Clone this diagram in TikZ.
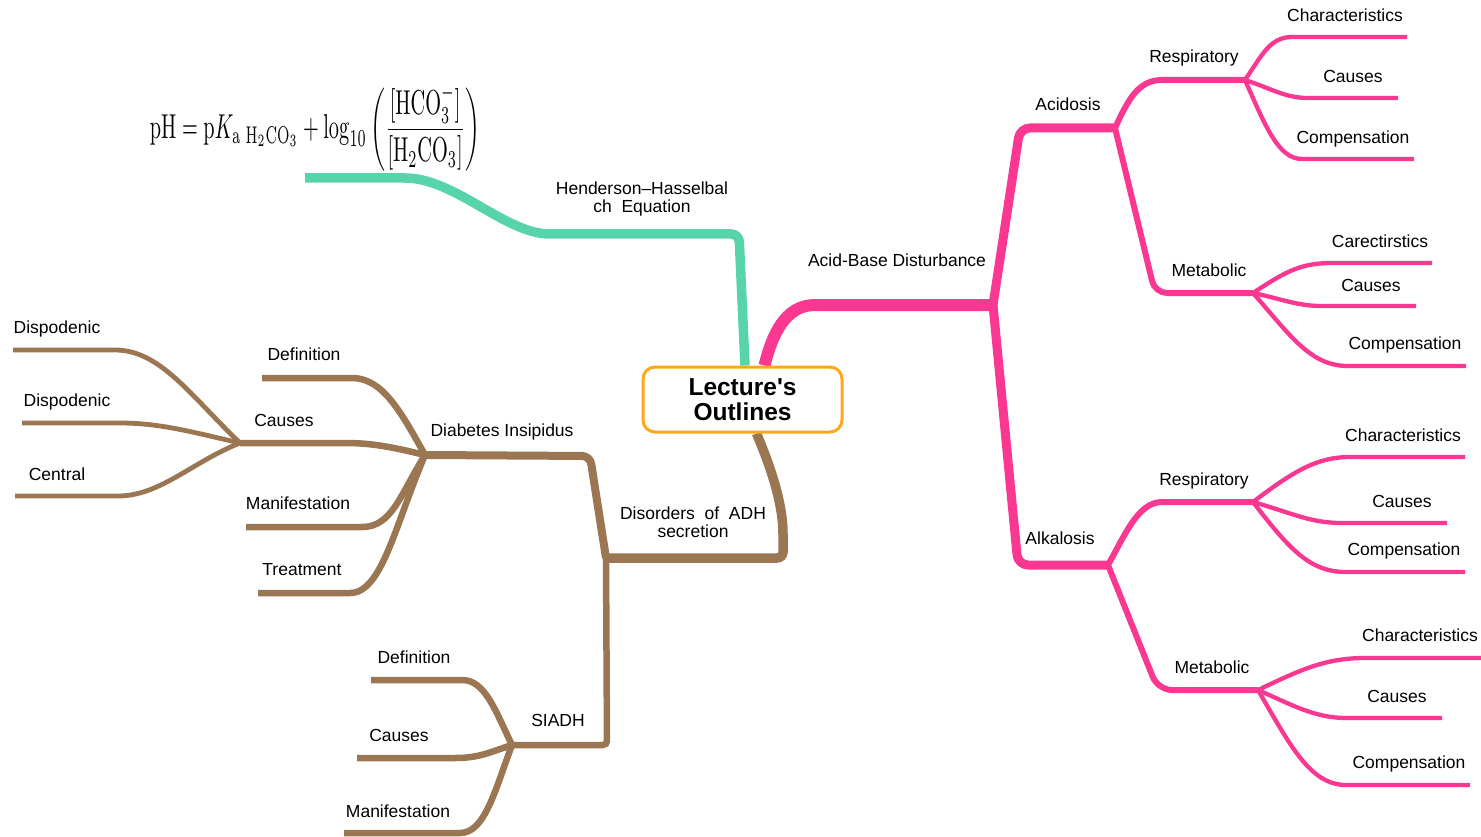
\documentclass[tikz,border=0pt]{standalone}
\usepackage[no-math]{fontspec}
\setmainfont{Liberation Sans}
\usepackage{graphicx}
\usetikzlibrary{backgrounds,calc}
\definecolor{mmteal}{RGB}{88,212,170}
\definecolor{mmpink}{RGB}{250,55,145}
\definecolor{mmbrown}{RGB}{155,118,82}
\definecolor{mmorange}{RGB}{255,168,30}
\begin{document}
\begin{tikzpicture}[x=1pt,y=-1pt,line join=round,line cap=butt,
  lbl/.style={font=\fontsize{17.5}{19}\selectfont,inner sep=0pt,text height=12.5pt,text depth=0pt},
  lbl2/.style={font=\fontsize{17.5}{18.5}\selectfont,inner sep=0pt,align=center},
  centerbox/.style={draw=mmorange,line width=3pt,rounded corners=12pt,fill=white,
    minimum width=199pt,minimum height=65pt,align=center,inner sep=0pt,
    font=\fontsize{24.5}{24.5}\selectfont\bfseries},
  tl/.style={draw=mmteal,line width=9.5pt},
  pk1/.style={draw=mmpink,line width=12pt},
  pk2/.style={draw=mmpink,line width=9pt},
  pk3/.style={draw=mmpink,line width=6pt},
  pk4/.style={draw=mmpink,line width=4.3pt},
  bw1/.style={draw=mmbrown,line width=9.5pt},
  bw2/.style={draw=mmbrown,line width=8pt},
  bw3/.style={draw=mmbrown,line width=6.5pt},
  bw4/.style={draw=mmbrown,line width=4.8pt}]
\useasboundingbox (0,0) rectangle (1481,837);

\node[centerbox] (center) at (742.5,399.5) {Lecture\textquotesingle s\\Outlines};

% ---------- formula ----------
\node[inner sep=0pt] (hhf) at (315,128) {\resizebox*{330pt}{86pt}{$\displaystyle \mathrm{pH}=\mathrm{p}K_{\mathrm{a}\ \mathrm{H_2CO_3}}+\log_{10}\left(\frac{[\mathrm{HCO_3^-}]}{[\mathrm{H_2CO_3}]}\right)$}};

% ---------- labels ----------
\node[lbl2] (hhl) at (642,199) {Henderson–Hasselbal\\ch\ \ Equation};
\node[lbl] (abd) at (897,260) {Acid-Base Disturbance};
\node[lbl] (acid) at (1068,104) {Acidosis};
\node[lbl] (alk) at (1060,538) {Alkalosis};
\node[lbl] (ar) at (1194,56) {Respiratory};
\node[lbl] (am) at (1209,270) {Metabolic};
\node[lbl] (lr) at (1204,479) {Respiratory};
\node[lbl] (lm) at (1212,667) {Metabolic};
\node[lbl] (ar1) at (1345,15) {Characteristics};
\node[lbl] (ar2) at (1353,76) {Causes};
\node[lbl] (ar3) at (1353,137) {Compensation};
\node[lbl] (am1) at (1380,241) {Carectirstics};
\node[lbl] (am2) at (1371,285) {Causes};
\node[lbl] (am3) at (1405,343) {Compensation};
\node[lbl] (lr1) at (1403,435) {Characteristics};
\node[lbl] (lr2) at (1402,501) {Causes};
\node[lbl] (lr3) at (1404,549) {Compensation};
\node[lbl] (lm1) at (1420,635) {Characteristics};
\node[lbl] (lm2) at (1397,696) {Causes};
\node[lbl] (lm3) at (1409,762) {Compensation};
\node[lbl2] (dis) at (693,522) {Disorders\ \ of\ \ ADH\\secretion};
\node[lbl] (di) at (502,430) {Diabetes Insipidus};
\node[lbl] (si) at (558,720) {SIADH};
\node[lbl] (di1) at (304,354) {Definition};
\node[lbl] (di2) at (284,420) {Causes};
\node[lbl] (di3) at (298,503) {Manifestation};
\node[lbl] (di4) at (302,569) {Treatment};
\node[lbl] (dc1) at (57,327) {Dispodenic};
\node[lbl] (dc2) at (67,400) {Dispodenic};
\node[lbl] (dc3) at (57,474) {Central};
\node[lbl] (si1) at (414,657) {Definition};
\node[lbl] (si2) at (399,735) {Causes};
\node[lbl] (si3) at (398,811) {Manifestation};

% ---------- junctions and free ends ----------
\coordinate (hhj) at (550,234);
\coordinate (hhe) at (305,178);
\coordinate (abj) at (993,305);
\coordinate (acj) at (1115,128);
\coordinate (alj) at (1108,565);
\coordinate (arj) at (1245,80);
\coordinate (amj) at (1253,293);
\coordinate (lrj) at (1253,502);
\coordinate (lmj) at (1258,690);
\coordinate (ar1e) at (1407,37);
\coordinate (ar2e) at (1398,98);
\coordinate (ar3e) at (1414,159);
\coordinate (am1e) at (1432,263);
\coordinate (am2e) at (1416,306);
\coordinate (am3e) at (1466,366);
\coordinate (lr1e) at (1465,457);
\coordinate (lr2e) at (1447,523);
\coordinate (lr3e) at (1465,572);
\coordinate (lm1e) at (1481,658);
\coordinate (lm2e) at (1442,718);
\coordinate (lm3e) at (1470,785);
\coordinate (dj) at (606,558);
\coordinate (dij) at (425,455);
\coordinate (sj) at (512,745);
\coordinate (dcj) at (240,443);
\coordinate (di1e) at (262,378);
\coordinate (di3e) at (246,527);
\coordinate (di4e) at (258,593);
\coordinate (dc1e) at (13,350);
\coordinate (dc2e) at (22,423);
\coordinate (dc3e) at (15,496);
\coordinate (si1e) at (371,680);
\coordinate (si2e) at (357,758);
\coordinate (si3e) at (344,833);

\begin{scope}[on background layer]
% teal
\draw[tl,rounded corners=8pt] ([xshift=2.5pt]center.north) -- (739,234) -- (hhj);
\draw[tl] (hhj) .. controls (505,234) and (455,178) .. (405,178) -- (hhe);
% pink
\draw[pk1] ([xshift=22pt]center.north) .. controls (772,335) and (785,305) .. (815,305) -- (abj);
\draw[pk2,rounded corners=10pt] (abj) -- (1020,128) -- (acj);
\draw[pk2,rounded corners=10pt] (abj) -- (1018,565) -- (alj);
\draw[pk3] (acj) .. controls (1128,100) and (1138,80) .. (1162,80) -- (arj);
\draw[pk3,rounded corners=12pt] (acj) -- (1155,293) -- (amj);
\draw[pk3] (alj) .. controls (1125,535) and (1138,502) .. (1162,502) -- (lrj);
\draw[pk3,rounded corners=14pt] (alj) -- (1158,690) -- (lmj);
\draw[pk4] (arj) .. controls (1262,55) and (1270,37) .. (1292,37) -- (ar1e);
\draw[pk4] (arj) .. controls (1270,88) and (1285,98) .. (1308,98) -- (ar2e);
\draw[pk4] (arj) .. controls (1265,125) and (1278,159) .. (1302,159) -- (ar3e);
\draw[pk4] (amj) .. controls (1285,272) and (1300,263) .. (1332,263) -- (am1e);
\draw[pk4] (amj) .. controls (1282,299) and (1297,306) .. (1322,306) -- (am2e);
\draw[pk4] (amj) .. controls (1290,335) and (1310,366) .. (1348,366) -- (am3e);
\draw[pk4] (lrj) .. controls (1295,470) and (1318,457) .. (1350,457) -- (lr1e);
\draw[pk4] (lrj) .. controls (1292,513) and (1310,523) .. (1342,523) -- (lr2e);
\draw[pk4] (lrj) .. controls (1290,550) and (1310,572) .. (1346,572) -- (lr3e);
\draw[pk4] (lmj) .. controls (1300,670) and (1325,658) .. (1365,658) -- (lm1e);
\draw[pk4] (lmj) .. controls (1292,705) and (1315,718) .. (1346,718) -- (lm2e);
\draw[pk4] (lmj) .. controls (1290,745) and (1310,785) .. (1346,785) -- (lm3e);
% brown
\draw[bw1,rounded corners=6pt] ([xshift=14pt]center.south) .. controls (772,470) and (783,505) .. (783,540) -- (783,558) -- (dj);
\draw[bw2,rounded corners=8pt] (dj) -- (590,456) -- (dij);
\draw[bw3,rounded corners=4pt] (dj) -- (607,745) -- (sj);
\draw[bw3] (dij) .. controls (400,410) and (382,378) .. (352,378) -- (di1e);
\draw[bw3] (dij) .. controls (392,447) and (372,443) .. (345,443) -- (dcj);
\draw[bw3] (dij) .. controls (400,495) and (392,527) .. (362,527) -- (di3e);
\draw[bw3] (dij) .. controls (395,525) and (382,593) .. (350,593) -- (di4e);
\draw[bw4] (dcj) .. controls (190,395) and (160,350) .. (115,350) -- (dc1e);
\draw[bw4] (dcj) .. controls (192,432) and (160,423) .. (120,423) -- (dc2e);
\draw[bw4] (dcj) .. controls (192,462) and (160,496) .. (118,496) -- (dc3e);
\draw[bw3] (sj) .. controls (495,710) and (485,680) .. (462,680) -- (si1e);
\draw[bw3] (sj) .. controls (490,752) and (480,758) .. (455,758) -- (si2e);
\draw[bw3] (sj) .. controls (495,790) and (485,833) .. (460,833) -- (si3e);
\end{scope}
\end{tikzpicture}
\end{document}
